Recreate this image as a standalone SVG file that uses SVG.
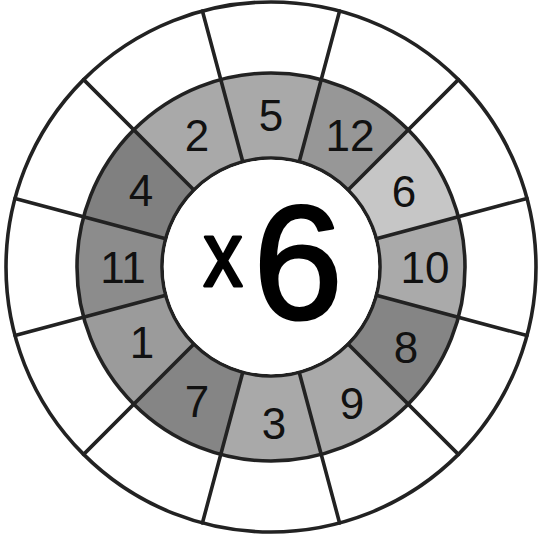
<svg xmlns="http://www.w3.org/2000/svg" width="540" height="542" viewBox="0 0 540 542">
  <style>
    .ln { fill: none; stroke: #222; stroke-width: 3.6; stroke-linecap: round; }
    .cell { stroke: none; }
    .num { font-family: "Liberation Sans", Arial, sans-serif; font-size: 44px; fill: #111; text-anchor: middle; }
    .nar { font-family: "Liberation Sans Narrow", "Liberation Sans", Arial, sans-serif; }
    .big { font-family: "Liberation Sans", Arial, sans-serif; fill: #000; stroke: #000; stroke-linejoin: round; text-anchor: middle; }
  </style>
  <rect width="540" height="542" fill="#fff"/>
  <g id="outer-ring">
    <circle cx="271" cy="267" r="265" fill="#fff"/>
  </g>
  <g id="cell-5"><path class="cell" fill="#a9a9a9" d="M220.789,79.610 A194,194 0 0 1 321.211,79.610 L299.211,161.714 A109,109 0 0 0 242.789,161.714 Z"/><text class="num" x="271" y="131">5</text></g>
  <g id="cell-12"><path class="cell" fill="#979797" d="M321.211,79.610 A194,194 0 0 1 408.179,129.821 L348.075,189.925 A109,109 0 0 0 299.211,161.714 Z"/><text class="num nar" x="350" y="151">12</text></g>
  <g id="cell-6"><path class="cell" fill="#c6c6c6" d="M408.179,129.821 A194,194 0 0 1 458.390,216.789 L376.286,238.789 A109,109 0 0 0 348.075,189.925 Z"/><text class="num" x="404" y="207">6</text></g>
  <g id="cell-10"><path class="cell" fill="#aaaaaa" d="M458.390,216.789 A194,194 0 0 1 458.390,317.211 L376.286,295.211 A109,109 0 0 0 376.286,238.789 Z"/><text class="num nar" x="425" y="283">10</text></g>
  <g id="cell-8"><path class="cell" fill="#858585" d="M458.390,317.211 A194,194 0 0 1 408.179,404.179 L348.075,344.075 A109,109 0 0 0 376.286,295.211 Z"/><text class="num" x="406" y="363">8</text></g>
  <g id="cell-9"><path class="cell" fill="#a9a9a9" d="M408.179,404.179 A194,194 0 0 1 321.211,454.390 L299.211,372.286 A109,109 0 0 0 348.075,344.075 Z"/><text class="num" x="352" y="419">9</text></g>
  <g id="cell-3"><path class="cell" fill="#a9a9a9" d="M321.211,454.390 A194,194 0 0 1 220.789,454.390 L242.789,372.286 A109,109 0 0 0 299.211,372.286 Z"/><text class="num" x="274" y="439">3</text></g>
  <g id="cell-7"><path class="cell" fill="#858585" d="M220.789,454.390 A194,194 0 0 1 133.821,404.179 L193.925,344.075 A109,109 0 0 0 242.789,372.286 Z"/><text class="num" x="197" y="417">7</text></g>
  <g id="cell-1"><path class="cell" fill="#9b9b9b" d="M133.821,404.179 A194,194 0 0 1 83.610,317.211 L165.714,295.211 A109,109 0 0 0 193.925,344.075 Z"/><text class="num" x="142" y="358">1</text></g>
  <g id="cell-11"><path class="cell" fill="#8c8c8c" d="M83.610,317.211 A194,194 0 0 1 83.610,216.789 L165.714,238.789 A109,109 0 0 0 165.714,295.211 Z"/><text class="num nar" x="123" y="283">11</text></g>
  <g id="cell-4"><path class="cell" fill="#808080" d="M83.610,216.789 A194,194 0 0 1 133.821,129.821 L193.925,189.925 A109,109 0 0 0 165.714,238.789 Z"/><text class="num" x="141" y="206">4</text></g>
  <g id="cell-2"><path class="cell" fill="#a9a9a9" d="M133.821,129.821 A194,194 0 0 1 220.789,79.610 L242.789,161.714 A109,109 0 0 0 193.925,189.925 Z"/><text class="num" x="197" y="151">2</text></g>
  <g id="dividers">
    <circle class="ln" cx="271" cy="267" r="265"/>
    <circle class="ln" cx="271" cy="267" r="194"/>
    <circle class="ln" cx="271" cy="267" r="109"/>
    <path class="ln" d="M376.286,295.211 L526.970,335.587 M348.075,344.075 L458.383,454.383 M299.211,372.286 L339.587,522.970 M242.789,372.286 L202.413,522.970 M193.925,344.075 L83.617,454.383 M165.714,295.211 L15.030,335.587 M165.714,238.789 L15.030,198.413 M193.925,189.925 L83.617,79.617 M242.789,161.714 L202.413,11.030 M299.211,161.714 L339.587,11.030 M348.075,189.925 L458.383,79.617 M376.286,238.789 L526.970,198.413"/>
  </g>
  <g id="center">
    <circle cx="271" cy="267" r="107.2" fill="#fff"/>
    <text class="big" transform="translate(223,286) scale(0.85,1)" x="0" y="0" font-size="92" stroke-width="3">x</text>
    <text class="big" x="298" y="318" font-size="161" stroke-width="3">6</text>
  </g>
</svg>
